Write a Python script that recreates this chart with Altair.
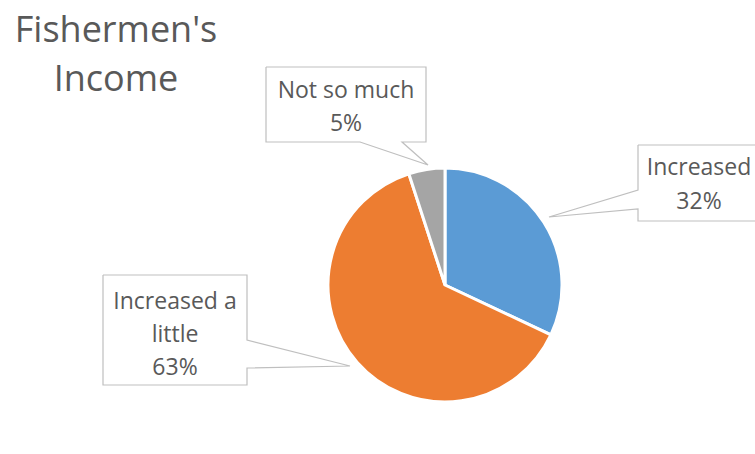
import altair as alt
import pandas as pd

# ---- data ----
categories = ["Increased", "Increased a little", "Not so much"]
values = [32, 63, 5]
colors = ["#5B9BD5", "#ED7D31", "#A5A5A5"]
label_lines = [["Increased", "32%"], ["Increased a", "little", "63%"], ["Not so much", "5%"]]
title_lines = ["Fishermen's", "Income"]

# ---- layout (pixels) ----
W, H = 755, 454
CX, CY, R = 445, 285, 117
# box: x0, x1, y0, y1 ; pointer: side, start a, start b, tip (x,y)
boxes = {
    "Increased": dict(x0=638, x1=760, y0=145, y1=221, side="left", a=190, b=209, tip=(549, 217)),
    "Increased a little": dict(x0=103, x1=247, y0=275, y1=385, side="right", a=340, b=368, tip=(350, 366)),
    "Not so much": dict(x0=266, x1=426, y0=67, y1=142, side="bottom", a=360, b=402, tip=(428, 165)),
}
text_pos = {
    "Increased": (699, 168, 34),
    "Increased a little": (175, 302, 33),
    "Not so much": (346, 91, 33),
}

pie_df = pd.DataFrame({"category": categories, "value": values, "order": list(range(len(categories)))})

# outline paths of callouts
path_rows = []
for cat in categories:
    b = boxes[cat]
    x0, x1, y0, y1 = b["x0"], b["x1"], b["y0"], b["y1"]
    tx, ty = b["tip"]
    if b["side"] == "left":
        pts = [(x0, y0), (x1, y0), (x1, y1), (x0, y1), (x0, b["b"]), (tx, ty), (x0, b["a"]), (x0, y0)]
    elif b["side"] == "right":
        pts = [(x0, y0), (x1, y0), (x1, b["a"]), (tx, ty), (x1, b["b"]), (x1, y1), (x0, y1), (x0, y0)]
    else:
        pts = [(x0, y0), (x1, y0), (x1, y1), (b["b"], y1), (tx, ty), (b["a"], y1), (x0, y1), (x0, y0)]
    for i, (px, py) in enumerate(pts):
        path_rows.append({"cat": cat, "seq": i, "px": px, "py": py})
path_df = pd.DataFrame(path_rows)

text_rows = []
for cat, lines in zip(categories, label_lines):
    tx, ty, dy = text_pos[cat]
    for i, ln in enumerate(lines):
        text_rows.append({"txt": ln, "px": tx, "py": ty + i * dy})
text_df = pd.DataFrame(text_rows)

title_df = pd.DataFrame({"txt": title_lines, "px": [116, 116], "py": [31, 80]})

pie = alt.Chart(pie_df).mark_arc(outerRadius=R, stroke="white", strokeWidth=3).encode(
    theta=alt.Theta("value:Q", stack=True),
    order=alt.Order("order:Q"),
    color=alt.Color("category:N", scale=alt.Scale(domain=categories, range=colors), legend=None),
    x=alt.value(CX),
    y=alt.value(CY),
)

callouts = alt.Chart(path_df).mark_line(color="#BFBFBF", strokeWidth=1.2).encode(
    x=alt.X("px:Q", scale=None),
    y=alt.Y("py:Q", scale=None),
    detail="cat:N",
    order="seq:Q",
)

labels = alt.Chart(text_df).mark_text(font="Open Sans", fontSize=23, color="#595959",
                                      align="center", baseline="middle").encode(
    x=alt.X("px:Q", scale=None),
    y=alt.Y("py:Q", scale=None),
    text="txt:N",
)

title = alt.Chart(title_df).mark_text(font="Open Sans", fontSize=36, color="#595959",
                                      align="center", baseline="middle").encode(
    x=alt.X("px:Q", scale=None),
    y=alt.Y("py:Q", scale=None),
    text="txt:N",
)

chart = alt.layer(pie, callouts, labels, title).properties(
    width=W, height=H, padding=0, autosize=alt.AutoSizeParams(type="none"),
    background="white",
).configure_view(stroke=None)

chart.save("out.html", embed_options={"renderer": "svg", "actions": False})
